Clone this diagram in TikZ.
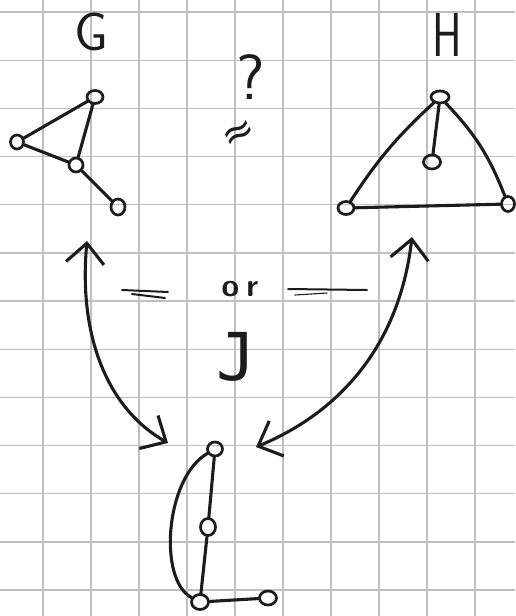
\documentclass[tikz,border=0pt]{standalone}
\usepackage{fontspec}
\newfontfamily\jmono{DejaVu Sans Mono}
\newfontfamily\symfont{DejaVu Sans}
\usetikzlibrary{arrows.meta,shapes.geometric}
\definecolor{ink}{HTML}{1C1C1C}
\definecolor{gridgray}{HTML}{C0C0C0}
\begin{document}
\begin{tikzpicture}[x=1pt,y=-1pt,
  pen/.style={draw=ink, line width=3.1pt, line cap=round, line join=round},
  thinpen/.style={draw=ink, line width=2pt, line cap=round},
  vtx/.style={ellipse, draw=ink, line width=2.7pt, minimum width=15pt, minimum height=12pt, inner sep=0pt},
  link/.style={pen},
  arr/.style={pen, {Straight Barb[length=20pt,width=38pt,line width=3.1pt]}-{Straight Barb[length=20pt,width=38pt,line width=3.1pt]}},
  lbl/.style={text=ink, inner sep=0pt},
  gridline/.style={draw=gridgray, line width=1.3pt}]
\useasboundingbox (0,0) rectangle (515,616);
\fill[white] (0,0) rectangle (515,616);
% grid paper
\foreach \x in {43,91,...,475} \draw[gridline] (\x,0) -- (\x,616);
\foreach \k in {0,...,12} \draw[gridline] (0,{12+48.17*\k}) -- (515,{12+48.17*\k});

% labels
\node[lbl, font=\sffamily\fontsize{54}{54}\selectfont] (tG) at (91,32) {G};
\node[lbl, font=\sffamily\fontsize{62}{62}\selectfont, xscale=0.72] (tH) at (447,35) {H};
\node[lbl, font=\sffamily\fontsize{64}{64}\selectfont] (tq) at (251,77) {?};
\node[lbl, font=\symfont\fontsize{40}{40}\selectfont, rotate=28] (tap) at (240,135) {≈};
\node[lbl, font=\sffamily\bfseries\fontsize{32}{32}\selectfont] (tor) at (240,289) {o\kern7pt r};
\node[lbl, font=\jmono\fontsize{66}{66}\selectfont] (tJ) at (236,357) {J};

% blanks "= or ="
\draw[thinpen] (122,290) -- (168,292);
\draw[thinpen] (132,294) -- (165,298);
\draw[thinpen] (288,289) -- (367,290);
\draw[thinpen, line width=1.1pt] (295,295) -- (327,293);

% graph G
\node[vtx, minimum width=16pt, minimum height=13pt] (g1) at (95,97) {};
\node[vtx, minimum width=13pt, minimum height=14pt] (g2) at (17,142) {};
\node[vtx, minimum width=14pt, minimum height=14pt] (g3) at (76,165) {};
\node[vtx, minimum width=14pt, minimum height=16pt] (g4) at (118,207) {};
\draw[link] (g1) -- (g2);
\draw[link] (g2) -- (g3);
\draw[link] (g1) -- (g3);
\draw[link] (g3) -- (g4);

% graph H
\node[vtx, minimum width=18pt, minimum height=12pt] (h1) at (440,97) {};
\node[vtx, minimum width=17pt, minimum height=14pt] (h2) at (432,162) {};
\node[vtx, minimum width=16pt, minimum height=13pt] (h3) at (346,208) {};
\node[vtx, minimum width=13pt, minimum height=15pt] (h4) at (508,204) {};
\draw[link] (h1) -- (h2);
\draw[link] (h1) to[bend right=7] (h3);
\draw[link] (h1) to[bend left=11] (h4);
\draw[link] (h3) -- (h4);

% graph J
\node[vtx, minimum width=15pt, minimum height=14pt] (j1) at (215,449) {};
\node[vtx, minimum width=15pt, minimum height=17pt] (j2) at (208,527) {};
\node[vtx, minimum width=17pt, minimum height=15pt] (j3) at (200,602) {};
\node[vtx, minimum width=17pt, minimum height=14pt] (j4) at (268,598) {};
\draw[link] (j1) -- (j2);
\draw[link] (j2) -- (j3);
\draw[link] (j3) -- (j4);
\draw[link] (j1) .. controls (165,478) and (158,580) .. (j3);

% arrows
\coordinate (aGt) at (87,241);
\coordinate (aGb) at (168,443);
\coordinate (aHt) at (412,237);
\coordinate (aHb) at (256,447);
\draw[arr] (aGt) .. controls (78,340) and (110,410) .. (aGb);
\draw[arr] (aHt) .. controls (400,340) and (345,410) .. (aHb);
\end{tikzpicture}
\end{document}
